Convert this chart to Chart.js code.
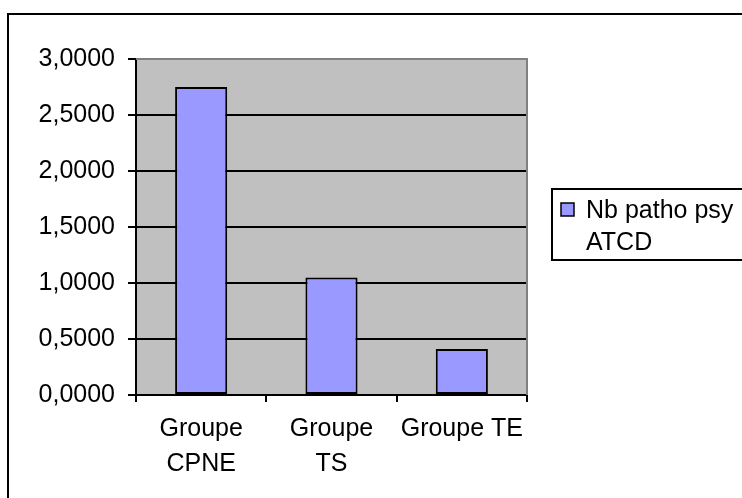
<!DOCTYPE html>
<html>
<head>
<meta charset="utf-8">
<script src="https://cdn.jsdelivr.net/npm/chart.js@4/dist/chart.umd.min.js"></script>
<style>
  html, body { margin: 0; padding: 0; background: #fff; }
  canvas { display: block; }
</style>
</head>
<body>
<canvas id="chart" width="742" height="498"></canvas>
<script>
const categories = [['Groupe', 'CPNE'], ['Groupe', 'TS'], 'Groupe TE'];
const seriesName = 'Nb patho psy ATCD';
const seriesValues = [2.75, 1.05, 0.41];
const yTicks = [0, 0.5, 1, 1.5, 2, 2.5, 3];

const FONT_FAMILY = '"Liberation Sans", Arial, sans-serif';
const FONT_SIZE = 25;
const BAR_FILL = '#9999FF';
const PLOT_FILL = '#C0C0C0';

// grey plot background + grey frame on top/right, black outer chart frame
const framePlugin = {
  id: 'frame',
  beforeDraw(chart) {
    const { ctx, chartArea: a } = chart;
    ctx.save();
    ctx.fillStyle = PLOT_FILL;
    ctx.fillRect(a.left, a.top, a.right - a.left, a.bottom - a.top);
    ctx.restore();
  },
  afterDraw(chart) {
    const { ctx, chartArea: a } = chart;
    ctx.save();
    ctx.strokeStyle = '#808080';
    ctx.lineWidth = 2;
    ctx.beginPath();
    ctx.moveTo(a.left, a.top);
    ctx.lineTo(a.right, a.top);
    ctx.lineTo(a.right, a.bottom);
    ctx.stroke();
    ctx.strokeStyle = '#000';
    ctx.strokeRect(8, 14, 800, 600);
    ctx.restore();
  }
};

// boxed legend on the right, label wrapped over two lines
const legendBoxPlugin = {
  id: 'legendBox',
  afterDraw(chart) {
    const { ctx } = chart;
    const ds = chart.data.datasets[0];
    ctx.save();
    ctx.font = `${FONT_SIZE}px ${FONT_FAMILY}`;
    const words = ds.label.split(' ');
    const lines = [];
    let cur = '';
    for (const w of words) {
      const test = cur ? cur + ' ' + w : w;
      if (cur && ctx.measureText(test).width > 155) { lines.push(cur); cur = w; }
      else cur = test;
    }
    lines.push(cur);

    ctx.fillStyle = '#fff';
    ctx.fillRect(552, 189, 240, 71);
    ctx.strokeStyle = '#000';
    ctx.lineWidth = 2;
    ctx.strokeRect(552, 189, 240, 71);

    ctx.fillStyle = ds.backgroundColor;
    ctx.fillRect(561, 203, 13, 13);
    ctx.lineWidth = 1.5;
    ctx.strokeRect(561, 203, 13, 13);

    ctx.fillStyle = '#000';
    ctx.textBaseline = 'alphabetic';
    lines.forEach((l, i) => ctx.fillText(l, 586, 218 + i * 32));
    ctx.restore();
  }
};

new Chart(document.getElementById('chart'), {
  type: 'bar',
  plugins: [framePlugin, legendBoxPlugin],
  data: {
    labels: categories,
    datasets: [{
      label: seriesName,
      data: seriesValues,
      backgroundColor: BAR_FILL,
      borderColor: '#000',
      borderWidth: 2,
      borderSkipped: false,
      categoryPercentage: 1,
      barPercentage: 0.4
    }]
  },
  options: {
    responsive: false,
    animation: false,
    layout: { padding: { left: 0, top: 59, right: 215, bottom: 0 } },
    plugins: {
      legend: { display: false },
      tooltip: { enabled: false }
    },
    scales: {
      x: {
        afterFit(scale) { scale.height = 103; },
        grid: {
          drawOnChartArea: false,
          drawTicks: true,
          tickLength: 7,
          tickColor: '#000',
          lineWidth: 2
        },
        border: { color: '#000', width: 2 },
        ticks: {
          color: '#000',
          maxRotation: 0,
          autoSkip: false,
          padding: 10,
          font: { family: FONT_FAMILY, size: FONT_SIZE, lineHeight: 1.4 }
        }
      },
      y: {
        min: yTicks[0],
        max: yTicks[yTicks.length - 1],
        afterFit(scale) { scale.width = 136; },
        afterBuildTicks(scale) { scale.ticks = yTicks.map(v => ({ value: v })); },
        grid: {
          color: (ctx) => ctx.tick && ctx.tick.value === 3 ? '#808080' : '#000',
          tickColor: '#000',
          tickLength: 8,
          lineWidth: 2
        },
        border: { color: '#000', width: 2 },
        ticks: {
          color: '#000',
          padding: 13,
          font: { family: FONT_FAMILY, size: FONT_SIZE },
          callback: (v) => Number(v).toFixed(4).replace('.', ',')
        }
      }
    }
  }
});
</script>
</body>
</html>
